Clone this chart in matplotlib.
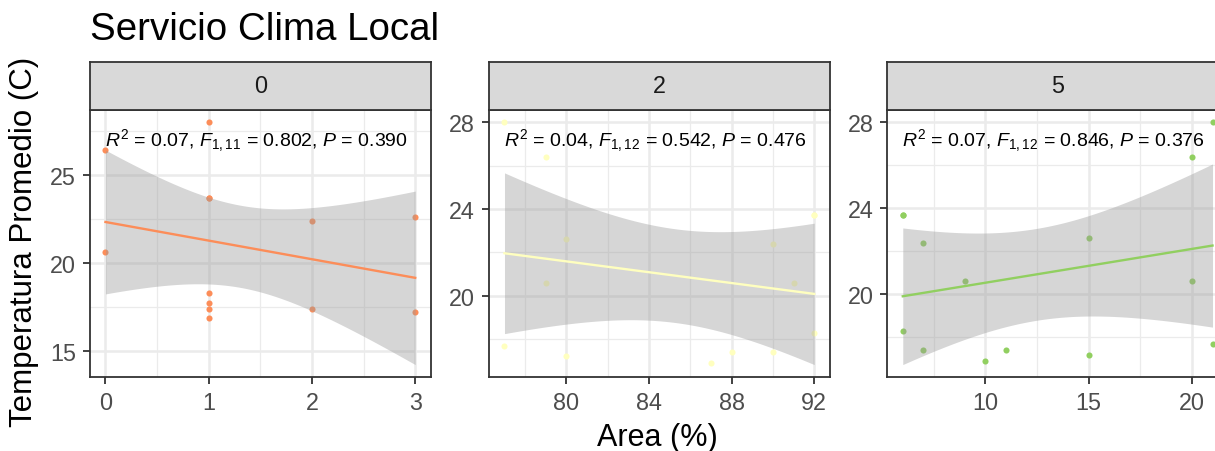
import numpy as np
import matplotlib.pyplot as plt

plt.rcParams['font.family'] = ['Liberation Sans', 'DejaVu Sans']
plt.rcParams['mathtext.fontset'] = 'custom'
plt.rcParams['mathtext.rm'] = 'Liberation Sans'
plt.rcParams['mathtext.it'] = 'Liberation Sans:italic'

# datos por faceta (x = area, y = temperatura promedio)
x_0 = [0, 0, 1, 1, 1, 1, 1, 1, 1, 2, 2, 3, 3]
y_0 = [26.4, 20.6, 28.0, 23.7, 23.7, 18.3, 17.7, 17.4, 16.9, 22.4, 17.4, 22.6, 17.2]

x_2 = [77, 79, 80, 79, 90, 91, 92, 92, 77, 80, 87, 88, 90, 92]
y_2 = [28.0, 26.4, 22.6, 20.6, 22.4, 20.6, 23.7, 23.7, 17.7, 17.2, 16.9, 17.4, 17.4, 18.3]

x_5 = [6, 6, 7, 9, 15, 20, 20, 21, 6, 7, 10, 11, 15, 21]
y_5 = [23.7, 23.7, 22.4, 20.6, 22.6, 26.4, 20.6, 28.0, 18.3, 17.4, 16.9, 17.4, 17.2, 17.7]

facetas = ["0", "2", "5"]
colores = ["#FC8D59", "#FFFFBF", "#91CF60"]
etiquetas = [r"$R^2$ = 0.07, $F_{1,11}$ = 0.802, $P$ = 0.390",
             r"$R^2$ = 0.04, $F_{1,12}$ = 0.542, $P$ = 0.476",
             r"$R^2$ = 0.07, $F_{1,12}$ = 0.846, $P$ = 0.376"]
xticks = [[0, 1, 2, 3], [80, 84, 88, 92], [10, 15, 20]]
xminor = [[0.5, 1.5, 2.5], [78, 82, 86, 90], [7.5, 12.5, 17.5]]
yticks = [[15, 20, 25], [20, 24, 28], [20, 24, 28]]
yminor = [[17.5, 22.5, 27.5], [18, 22, 26], [18, 22, 26]]

# cuantil t 0.975 segun grados de libertad
t975 = {11: 2.200985, 12: 2.178813}


def ajuste(x, y, n=80):
    x = np.asarray(x, float)
    y = np.asarray(y, float)
    b, a = np.polyfit(x, y, 1)
    xs = np.linspace(x.min(), x.max(), n)
    ys = a + b * xs
    gl = len(x) - 2
    s = np.sqrt(np.sum((y - (a + b * x)) ** 2) / gl)
    se = s * np.sqrt(1 / len(x) + (xs - x.mean()) ** 2 / np.sum((x - x.mean()) ** 2))
    return xs, ys, ys - t975[gl] * se, ys + t975[gl] * se


W, H = 1215, 452
fig = plt.figure(figsize=(W / 100, H / 100), dpi=100)
izq = [90, 489, 887.3]
ancho = 340.7
borde = "#333333"

for i, (x, y) in enumerate([(x_0, y_0), (x_2, y_2), (x_5, y_5)]):
    ax = fig.add_axes([izq[i] / W, (H - 377.7) / H, ancho / W, 266.7 / H])
    xs, ys, lo, hi = ajuste(x, y)

    ax.plot(x, y, 'o', color=colores[i], ms=4.4, mew=0, zorder=2)
    ax.fill_between(xs, lo, hi, color="#999999", alpha=0.4, lw=0, zorder=3)
    ax.plot(xs, ys, color=colores[i], lw=1.7, zorder=4)

    # limites con expansion del 5%
    x0, x1 = min(x), max(x)
    y0 = min(min(y), lo.min())
    y1 = max(max(y), hi.max())
    ax.set_xlim(x0 - 0.05 * (x1 - x0), x1 + 0.05 * (x1 - x0))
    ax.set_ylim(y0 - 0.05 * (y1 - y0), y1 + 0.05 * (y1 - y0))

    ax.set_xticks(xticks[i])
    ax.set_xticks(xminor[i], minor=True)
    ax.set_yticks(yticks[i])
    ax.set_yticks(yminor[i], minor=True)
    ax.grid(which='major', color="#EBEBEB", lw=1.8)
    ax.grid(which='minor', color="#EBEBEB", lw=0.9)
    ax.set_axisbelow(True)
    ax.tick_params(which='major', length=5, width=1.3, color=borde,
                   labelsize=16.8, labelcolor="#4D4D4D", pad=5)
    ax.tick_params(which='minor', length=0)
    for sp in ax.spines.values():
        sp.set_color(borde)
        sp.set_linewidth(1.3)

    ax.text(0.487, 0.8875, etiquetas[i], transform=ax.transAxes,
            ha='center', va='center', fontsize=14, zorder=5)

    strip = fig.add_axes([izq[i] / W, (H - 111) / H, ancho / W, 48 / H])
    strip.set_facecolor("#D9D9D9")
    strip.set_xticks([])
    strip.set_yticks([])
    for sp in strip.spines.values():
        sp.set_color(borde)
        sp.set_linewidth(1.3)
    strip.text(0.5, 0.5, facetas[i], ha='center', va='center',
               fontsize=16.8, color="#1A1A1A", transform=strip.transAxes)

fig.text(90 / W, 1 - 39.5 / H, "Servicio Clima Local", fontsize=27.7,
         ha='left', va='baseline')
fig.text(657 / W, 1 - 438 / H, "Area (%)", fontsize=22,
         ha='center', va='center')
fig.text(24 / W, 1 - 241.7 / H, "Temperatura Promedio (C)", fontsize=22.5,
         rotation=90, ha='center', va='center')

fig.savefig("out.png", dpi=100)
